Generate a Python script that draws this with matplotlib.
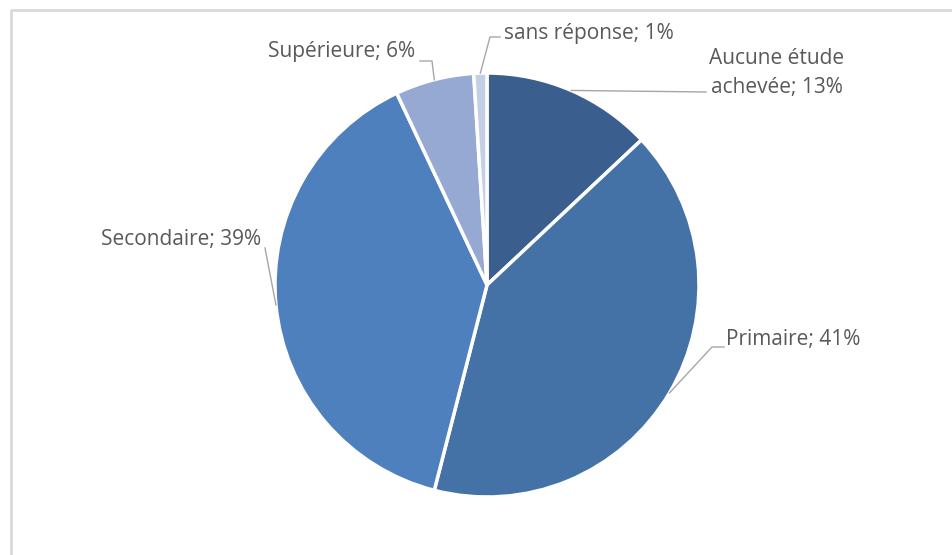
import matplotlib.pyplot as plt
import numpy as np

# Niveau d'études
categories = ['Aucune étude\nachevée', 'Primaire', 'Secondaire', 'Supérieure', 'sans réponse']
valeurs = [13, 41, 39, 6, 1]
couleurs = ['#3A5E8E', '#4472A7', '#4E80BD', '#95A9D2', '#C4CEE5']

W, H = 952, 555
cx, cy, r = 487, 285, 212

fig = plt.figure(figsize=(W / 100, H / 100), dpi=100)
fig.patch.set_facecolor('white')

# cadre gris clair
cadre = fig.add_axes([0, 0, 1, 1])
cadre.set_xlim(0, W)
cadre.set_ylim(H, 0)
cadre.axis('off')
cadre.plot([11, 11, W + 5], [H + 5, 10, 10], color='#D9D9D9', lw=2, solid_capstyle='butt')

ax = fig.add_axes([(cx - r) / W, (H - cy - r) / H, 2 * r / W, 2 * r / H])
wedges, _ = ax.pie(valeurs, colors=couleurs, startangle=90, counterclock=False,
                   radius=1, wedgeprops=dict(edgecolor='white', linewidth=2.5))
ax.set_xlim(-1, 1)
ax.set_ylim(-1, 1)
ax.axis('off')


def px(x, y):
    # pixel -> coordonnées du camembert
    return (x - cx) / r, (cy - y) / r


# point de départ des traits: milieu de chaque secteur sur le bord
ancres = []
for w in wedges:
    a = np.deg2rad((w.theta1 + w.theta2) / 2)
    ancres.append((np.cos(a), np.sin(a)))

# coudes des lignes de rappel et position des étiquettes (en pixels)
coudes = [[(706, 92)],
          [(712, 347), (724, 347)],
          [(265, 248)],
          [(432, 61), (420, 61)],
          [(490, 37), (500, 37)]]
textes = [(709, 73, 'left'), (726, 339, 'left'), (261, 240, 'right'),
          (415, 51, 'right'), (504, 33, 'left')]

for cat, v, anc, cd, (tx, ty, ha) in zip(categories, valeurs, ancres, coudes, textes):
    pts = [anc] + [px(x, y) for x, y in cd]
    xs, ys = zip(*pts)
    ax.plot(xs, ys, color='#A6A6A6', lw=1, clip_on=False)
    x, y = px(tx, ty)
    ax.text(x, y, f'{cat}; {v}%', ha=ha, va='center', fontsize=15,
            family='Open Sans', color='#595959', linespacing=1.5,
            multialignment='center')

fig.savefig('out.png', dpi=100, facecolor='white')
